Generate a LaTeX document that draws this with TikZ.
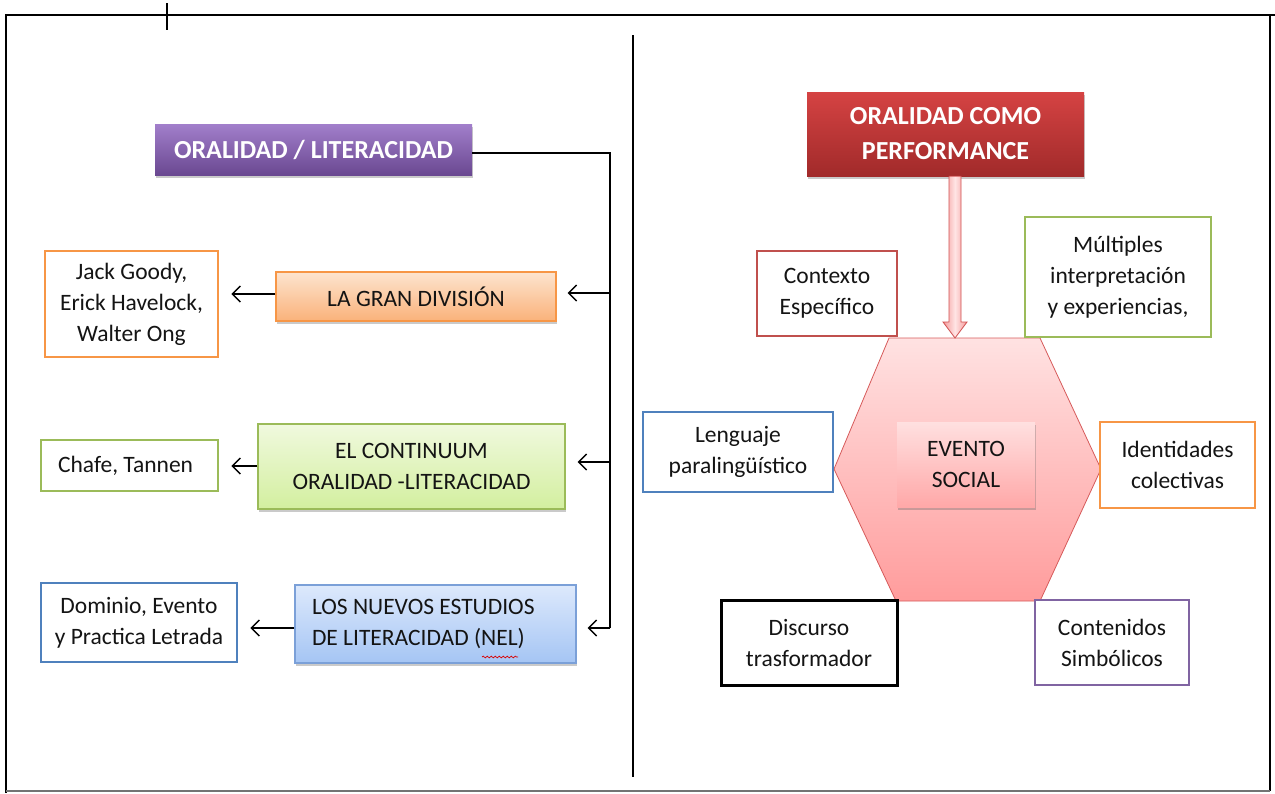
\documentclass[tikz,border=0pt]{standalone}
\usepackage{fontspec}
\setmainfont{Carlito}
\frenchspacing
\usetikzlibrary{arrows.meta,shadows,calc,decorations.pathmorphing}
\definecolor{cOrange}{HTML}{F79646}
\definecolor{cGreen}{HTML}{9BBB59}
\definecolor{cBlue}{HTML}{4F81BD}
\definecolor{cRed}{HTML}{C0504D}
\definecolor{cPurple}{HTML}{8064A2}
\definecolor{cText}{HTML}{141414}
\definecolor{purTop}{HTML}{A27FCB}
\definecolor{purBot}{HTML}{6A4891}
\definecolor{orTop}{HTML}{FDE4CF}
\definecolor{orBot}{HTML}{FAB27A}
\definecolor{grTop}{HTML}{F0F9DE}
\definecolor{grBot}{HTML}{D3EF9F}
\definecolor{blTop}{HTML}{DDE9FC}
\definecolor{blBot}{HTML}{A5C5F4}
\definecolor{blEdge}{HTML}{7BA0D8}
\definecolor{rdTop}{HTML}{D54343}
\definecolor{rdBot}{HTML}{A12A2A}
\definecolor{hxEdge}{HTML}{D65A5A}
\definecolor{hxTop}{HTML}{FFE2E2}
\definecolor{hxBot}{HTML}{FF9C9C}
\definecolor{arSide}{HTML}{F49A9A}
\definecolor{arMid}{HTML}{FFE4E4}
\definecolor{arEdge}{HTML}{D05050}
\definecolor{evTop}{HTML}{FFE0E0}
\definecolor{evBot}{HTML}{FFA8A8}
\begin{document}
\begin{tikzpicture}[x=1pt,y=-1pt,
  every node/.style={font=\fontsize{23.5}{31}\selectfont, inner sep=0pt, align=center, text=cText},
  frame/.style={line width=2.6pt, black},
  conn/.style={line width=1.4pt, black},
  arr/.style={conn, -{Straight Barb[length=8pt,width=16pt,line width=1.4pt]}},
  outbox/.style={draw=#1, line width=2.6pt, fill=white},
  shade/.style={drop shadow={shadow xshift=1pt, shadow yshift=-3pt, opacity=0.35, fill=black!60}},
  titlebox/.style={shade, font=\fontsize{26}{35}\selectfont\bfseries, text=white},
  fillbox/.style={shade, draw=#1, line width=1.2pt}
]
\useasboundingbox (0,0) rectangle (1275,793);
% frame
\draw[frame] (7,15) -- (1275,15);
\draw[frame] (6,14) -- (6,793);
\draw[frame] (1270,14) -- (1270,791);
\draw[line width=2.6pt, black!55] (6,791) -- (1270,791);
\draw[frame] (167,3) -- (167,30);
\draw[frame] (633,35) -- (633,777);

% left side
\node[titlebox, top color=purTop, bottom color=purBot, minimum width=317pt, minimum height=51pt] (title) at (313.5,149.5) {ORALIDAD / LITERACIDAD};
\node[fillbox=cOrange, top color=orTop, bottom color=orBot, minimum width=280pt, minimum height=49pt] (lagran) at (416,296.5) {LA GRAN DIVISIÓN};
\node[outbox=cOrange, minimum width=173pt, minimum height=106pt] (goody) at (131.5,304) {Jack Goody,\\Erick Havelock,\\Walter Ong};
\node[fillbox=cGreen, top color=grTop, bottom color=grBot, minimum width=307pt, minimum height=85pt] (cont) at (411.5,466.5) {EL CONTINUUM\\ORALIDAD -LITERACIDAD};
\node[outbox=cGreen, minimum width=177pt, minimum height=51pt, text width=143pt, align=flush left, inner xsep=17pt] (chafe) at (129.5,465.5) {Chafe, Tannen};
\node[fillbox=blEdge, top color=blTop, bottom color=blBot, minimum width=281pt, minimum height=78pt, text width=247pt, align=flush left, inner xsep=17pt] (nel) at (435.5,624) {LOS NUEVOS ESTUDIOS\\DE LITERACIDAD (NEL)};
\draw[red!85!black, line width=0.7pt, decorate, decoration={snake, amplitude=0.9pt, segment length=4pt}] (482,657) -- (518,657);
\node[outbox=cBlue, minimum width=196pt, minimum height=79pt] (dom) at (139,622.5) {Dominio, Evento\\y Practica Letrada};

% connectors left
\coordinate (bus) at (610,153);
\draw[conn] (title.east |- bus) -- (bus) -- (bus |- 0,628) coordinate (busend);
\draw[arr, shorten >=11pt] (busend) -- (busend -| nel.east);
\draw[arr, shorten >=11pt] (bus |- 0,293) -- (lagran.east |- 0,293);
\draw[arr, shorten >=12pt] (bus |- 0,462) -- (cont.east |- 0,462);
\draw[arr, shorten >=12pt] (lagran.west |- 0,294) -- (goody.east |- 0,294);
\draw[arr, shorten >=12pt] (cont.west |- 0,466) -- (chafe.east |- 0,466);
\draw[arr, shorten >=12pt] (nel.west |- 0,628) -- (dom.east |- 0,628);

% right side
\node[titlebox, top color=rdTop, bottom color=rdBot, minimum width=277pt, minimum height=84pt] (perf) at (945.5,134) {ORALIDAD COMO\\PERFORMANCE};
\draw[draw=hxEdge, line width=0.8pt, top color=hxTop, bottom color=hxBot]
  (889,338) -- (1040,338) -- (1101,469) -- (1040,601) -- (896,601) -- (834,469) -- cycle;
\coordinate (tip) at (955,338);
\draw[draw=arEdge, line width=0.8pt, left color=arSide, right color=arSide, middle color=arMid]
  (perf.south -| 949,0) -- (perf.south -| 961,0) -- (961,322) -- (967,322) -- (tip) -- (943,322) -- (949,322) -- cycle;
\node[shade, top color=evTop, bottom color=evBot, minimum width=138pt, minimum height=85pt] (evento) at (966,464.5) {EVENTO\\SOCIAL};
\node[outbox=cRed, minimum width=140pt, minimum height=85pt] (ctx) at (827,293.5) {Contexto\\Específico};
\node[outbox=cGreen, minimum width=186pt, minimum height=120pt] (mult) at (1118,277) {Múltiples\\interpretación\\y experiencias,};
\node[outbox=cBlue, minimum width=190pt, minimum height=80pt] (leng) at (738,452) {Lenguaje\\paralingüístico};
\node[outbox=cOrange, minimum width=155pt, minimum height=86pt] (ident) at (1177.5,465) {Identidades\\colectivas};
\node[outbox=black, line width=3pt, minimum width=176pt, minimum height=85pt] (disc) at (809,642.5) {Discurso\\trasformador};
\node[outbox=cPurple, minimum width=154pt, minimum height=85pt] (sim) at (1112,642.5) {Contenidos\\Simbólicos};
\end{tikzpicture}
\end{document}
